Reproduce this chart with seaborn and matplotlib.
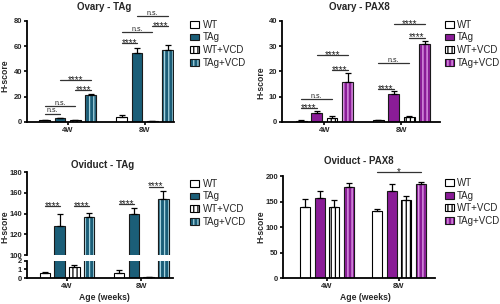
import numpy as np
import pandas as pd
import seaborn as sns
import matplotlib.pyplot as plt
from matplotlib.patches import Patch, Rectangle

groups = ['WT', 'TAg', 'WT+VCD', 'TAg+VCD']
ages = ['4W', '8W']

# means / SEM, [4W, 8W] x groups
ovary_tag_mean = [[1.5, 3.0, 1.5, 21.0], [4.0, 55.0, 0.5, 57.0]]
ovary_tag_err = [[0.4, 0.4, 0.4, 1.5], [1.5, 3.5, 0.2, 4.0]]
ovary_pax8_mean = [[0.5, 3.5, 1.6, 16.0], [0.7, 11.0, 2.0, 31.0]]
ovary_pax8_err = [[0.2, 0.9, 0.6, 3.5], [0.2, 1.2, 0.3, 1.2]]
oviduct_tag_mean = [[0.6, 128.0, 1.25, 137.0], [0.6, 140.0, 0.08, 154.0]]
oviduct_tag_err = [[0.1, 12.0, 0.3, 4.0], [0.3, 5.0, 0.05, 8.0]]
oviduct_pax8_mean = [[139.0, 157.0, 140.0, 179.0], [131.0, 171.0, 152.0, 185.0]]
oviduct_pax8_err = [[15.0, 14.0, 12.0, 8.0], [4.0, 13.0, 9.0, 4.0]]

# significance brackets: (age, group a, group b, y, label)
ovary_tag_sig = [(0, 0, 1, 6.5, 'n.s.'), (0, 0, 2, 12.3, 'n.s.'), (0, 2, 3, 25, '****'),
                 (0, 1, 3, 33, '****'), (1, 0, 1, 62.7, '****'), (1, 0, 2, 71, 'n.s.'),
                 (1, 2, 3, 76, '****'), (1, 1, 3, 84, 'n.s.')]
ovary_pax8_sig = [(0, 0, 1, 5.5, '****'), (0, 0, 2, 9, 'n.s.'), (0, 2, 3, 20.6, '****'),
                  (0, 1, 3, 26.5, '****'), (1, 0, 1, 13, '****'), (1, 0, 2, 23.2, 'n.s.'),
                  (1, 2, 3, 33.4, '****'), (1, 1, 3, 38.7, '****')]
oviduct_tag_sig = [(0, 0, 1, 147, '****'), (0, 2, 3, 147, '****'),
                   (1, 0, 1, 149.4, '****'), (1, 2, 3, 166, '****')]
oviduct_pax8_sig = [(1, 0, 3, 208, '*')]

teal, teal_light = '#1b5e78', '#a6d3df'
purple, purple_light = '#8a1c97', '#e7a9ef'

sns.set_style('ticks')
plt.rcParams['font.family'] = ['Liberation Sans', 'DejaVu Sans']
plt.rcParams['hatch.linewidth'] = 0.9


def draw_bars(ax, mean, err, color, light):
    df = pd.DataFrame({'age': np.repeat(ages, 4), 'group': groups * 2, 'score': np.ravel(mean)})
    pal = {'WT': 'white', 'TAg': color, 'WT+VCD': 'white', 'TAg+VCD': color}
    sns.barplot(data=df, x='age', y='score', hue='group', hue_order=groups, order=ages,
                palette=pal, saturation=1, width=0.8, gap=0.3, errorbar=None,
                legend=False, edgecolor='black', linewidth=0.8, ax=ax)
    bars = sorted(ax.patches, key=lambda p: p.get_x())
    for i, p in enumerate(bars):
        g = i % 4
        if g == 1:
            p.set_edgecolor('#1a1a1a')
        if g == 2:
            p.set_hatch('||||')
        if g == 3:
            p.set_hatch('||||')
            p.set_edgecolor(light)
            ax.add_patch(Rectangle(p.get_xy(), p.get_width(), p.get_height(),
                                   fill=False, edgecolor='#1a1a1a', lw=0.8))
    xs = [p.get_x() + p.get_width() / 2 for p in bars]
    e = np.ravel(err)
    ax.errorbar(xs, np.ravel(mean), yerr=[np.zeros_like(e), e], fmt='none',
                ecolor='black', elinewidth=0.9, capsize=2.2, capthick=0.9)
    return xs


def add_sig(ax, xs, sig):
    for age, a, b, y, lab in sig:
        x1, x2 = xs[age * 4 + a], xs[age * 4 + b]
        ax.plot([x1, x2], [y, y], color='#333333', lw=0.9, clip_on=False)
        if '*' in lab:
            ax.annotate(lab, ((x1 + x2) / 2, y), xytext=(0, -2.0), textcoords='offset points',
                        ha='center', va='baseline', fontsize=7, color='#222222',
                        annotation_clip=False)
        else:
            ax.annotate(lab, ((x1 + x2) / 2, y), xytext=(0, 1.0), textcoords='offset points',
                        ha='center', va='baseline', fontsize=5, color='#222222',
                        annotation_clip=False)


def style(ax, xlim):
    sns.despine(ax=ax)
    ax.set_xlim(*xlim)
    for s in ['left', 'bottom']:
        ax.spines[s].set_linewidth(1.3)
        ax.spines[s].set_color('black')
    ax.tick_params(width=1.2, length=2.5, labelsize=5.5, pad=1.0, color='black')
    for t in ax.get_xticklabels() + ax.get_yticklabels():
        t.set_fontweight('bold')
    ax.set_xlabel('')
    ax.set_ylabel('')


def legend(fig, x, y, color, light):
    handles = [Patch(facecolor='white', edgecolor='black', lw=0.8),
               Patch(facecolor=color, edgecolor='#1a1a1a', lw=0.8),
               Patch(facecolor='white', edgecolor='black', hatch='||||', lw=0.8),
               (Patch(facecolor=color, edgecolor=light, hatch='||||', lw=0),
                Patch(fill=False, edgecolor='#1a1a1a', lw=0.8))]
    fig.legend(handles, groups, loc='upper left', bbox_to_anchor=(x, y), frameon=False,
               fontsize=7, handlelength=0.95, handleheight=0.7, labelspacing=0.28,
               handletextpad=0.35, borderaxespad=0, borderpad=0)


def label(fig, x, y, text, rot=0, size=6):
    fig.text(x, y, text, rotation=rot, ha='center', va='center', fontsize=size, fontweight='bold')


fig = plt.figure(figsize=(5, 3.04), dpi=100)

# Ovary - TAg
ax1 = fig.add_axes([0.054, 0.599, 0.294, 0.332])
xs = draw_bars(ax1, ovary_tag_mean, ovary_tag_err, teal, teal_light)
ax1.set_ylim(0, 80)
ax1.set_yticks([0, 20, 40, 60, 80])
style(ax1, (-0.53, 1.38))
add_sig(ax1, xs, ovary_tag_sig)
label(fig, 0.209, 0.978, 'Ovary - TAg', size=7)
label(fig, 0.009, 0.75, 'H-score', rot=90, size=6.2)
legend(fig, 0.38, 0.935, teal, teal_light)

# Ovary - PAX8
ax2 = fig.add_axes([0.564, 0.599, 0.316, 0.332])
xs = draw_bars(ax2, ovary_pax8_mean, ovary_pax8_err, purple, purple_light)
ax2.set_ylim(0, 40)
ax2.set_yticks([0, 10, 20, 30, 40])
style(ax2, (-0.55, 1.50))
add_sig(ax2, xs, ovary_pax8_sig)
label(fig, 0.719, 0.978, 'Ovary - PAX8', size=7)
label(fig, 0.521, 0.728, 'H-score', rot=90, size=6.2)
legend(fig, 0.889, 0.935, purple, purple_light)

# Oviduct - TAg (broken axis)
ax3u = fig.add_axes([0.054, 0.161, 0.292, 0.273])
ax3l = fig.add_axes([0.054, 0.0855, 0.292, 0.056])
xs = draw_bars(ax3u, oviduct_tag_mean, oviduct_tag_err, teal, teal_light)
draw_bars(ax3l, oviduct_tag_mean, oviduct_tag_err, teal, teal_light)
ax3u.set_ylim(100, 180)
ax3u.set_yticks([100, 120, 140, 160, 180])
ax3l.set_ylim(0, 2)
ax3l.set_yticks([0, 1, 2])
style(ax3u, (-0.54, 1.43))
style(ax3l, (-0.54, 1.43))
ax3u.spines['bottom'].set_visible(False)
ax3u.tick_params(axis='x', bottom=False, labelbottom=False)
add_sig(ax3u, xs, oviduct_tag_sig)
label(fig, 0.206, 0.457, 'Oviduct - TAg', size=7)
label(fig, 0.009, 0.255, 'H-score', rot=90, size=6.2)
label(fig, 0.208, 0.023, 'Age (weeks)', size=6.2)
legend(fig, 0.38, 0.412, teal, teal_light)

# Oviduct - PAX8
ax4 = fig.add_axes([0.566, 0.0855, 0.304, 0.3355])
xs = draw_bars(ax4, oviduct_pax8_mean, oviduct_pax8_err, purple, purple_light)
ax4.set_ylim(0, 200)
ax4.set_yticks([0, 50, 100, 150, 200])
style(ax4, (-0.61, 1.50))
add_sig(ax4, xs, oviduct_pax8_sig)
label(fig, 0.717, 0.47, 'Oviduct - PAX8', size=7)
label(fig, 0.521, 0.255, 'H-score', rot=90, size=6.2)
label(fig, 0.731, 0.023, 'Age (weeks)', size=6.2)
legend(fig, 0.889, 0.415, purple, purple_light)

fig.savefig('out.png', dpi=100)
